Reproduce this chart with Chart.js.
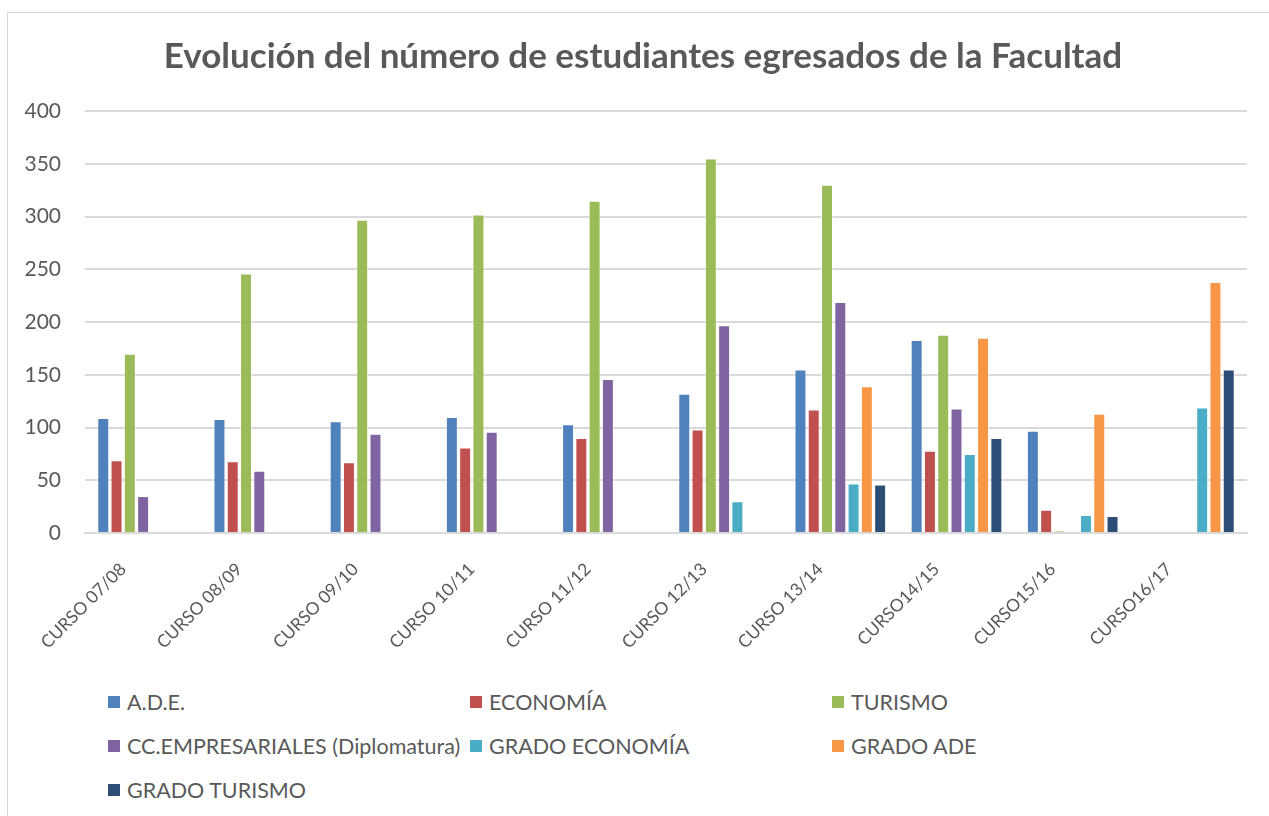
<!DOCTYPE html>
<html>
<head>
<meta charset="utf-8">
<script src="https://cdn.jsdelivr.net/npm/chart.js@4/dist/chart.umd.min.js"></script>
<style>
  body { margin: 0; background: #fff; width: 1269px; height: 816px; overflow: hidden; position: relative; font-family: Lato, sans-serif; }
  .frame { position: absolute; left: 7px; top: 12px; width: 1300px; height: 900px; border: 1px solid #d9d9d9; }
  #chart { position: absolute; left: 8px; top: 0; }
  .legend { position: absolute; left: 108px; top: 686px; margin: 0; padding: 0; list-style: none;
    display: grid; grid-template-columns: 362px 362px 362px; grid-auto-rows: 44px; }
  .legend li { display: flex; align-items: center; font-size: 21.5px; color: #595959; white-space: nowrap; height: 32px; }
  .legend .box { width: 12px; height: 12px; margin-right: 7px; flex: none; }
</style>
</head>
<body>
<div class="frame"></div>
<canvas id="chart" width="1270" height="680"></canvas>
<ul class="legend"></ul>
<script>
const courses = ["CURSO 07/08", "CURSO 08/09", "CURSO 09/10", "CURSO 10/11", "CURSO 11/12",
  "CURSO 12/13", "CURSO 13/14", "CURSO14/15", "CURSO15/16", "CURSO16/17"];
const seriesNames = ["A.D.E.", "ECONOMÍA", "TURISMO", "CC.EMPRESARIALES (Diplomatura)",
  "GRADO ECONOMÍA", "GRADO ADE", "GRADO TURISMO"];
const ade = [109, 108, 106, 110, 103, 132, 155, 183, 97, null];
const economia = [69, 68, 67, 81, 90, 98, 117, 78, 22, null];
const turismo = [170, 246, 297, 302, 315, 355, 330, 188, 2, null];
const empresariales = [35, 59, 94, 96, 146, 197, 219, 118, null, null];
const gradoEconomia = [null, null, null, null, null, 30, 47, 75, 17, 119];
const gradoAde = [null, null, null, null, null, null, 139, 185, 113, 238];
const gradoTurismo = [null, null, null, null, null, null, 46, 90, 16, 155];
const yTicks = [0, 50, 100, 150, 200, 250, 300, 350, 400];

const seriesValues = [ade, economia, turismo, empresariales, gradoEconomia, gradoAde, gradoTurismo];
const colors = ["#4f81bd", "#c0504d", "#9bbb59", "#8064a2", "#4bacc6", "#f79646", "#2c4d75"];
const textColor = "#595959";

const ctx = document.getElementById("chart").getContext("2d");
const chart = new Chart(ctx, {
  type: "bar",
  data: {
    labels: courses,
    datasets: seriesValues.map((values, i) => ({
      label: seriesNames[i],
      data: values,
      backgroundColor: colors[i],
      borderColor: "rgba(255,255,255,0.55)",
      borderWidth: 1,
      categoryPercentage: 0.8,
      barPercentage: 0.9,
    })),
  },
  options: {
    responsive: false,
    animation: false,
    layout: { padding: 0 },
    plugins: {
      legend: { display: false },
      tooltip: { enabled: false },
      title: {
        display: true,
        text: "Evolución del número de estudiantes egresados de la Facultad",
        color: textColor,
        font: { family: "Lato", size: 35, weight: "bold" },
        padding: { top: 36, bottom: 33 },
      },
    },
    scales: {
      x: {
        grid: { display: false, drawTicks: false },
        border: { color: "#d9d9d9", width: 2 },
        ticks: {
          color: textColor,
          font: { family: "Lato", size: 17.5 },
          minRotation: 45,
          maxRotation: 45,
          padding: 26,
          labelOffset: -20,
        },
        afterFit: (scale) => { scale.height = 147; },
      },
      y: {
        min: 0,
        max: 400,
        afterBuildTicks: (scale) => { scale.ticks = yTicks.map((v) => ({ value: v })); },
        grid: { color: "#d9d9d9", lineWidth: 2, drawTicks: false },
        border: { display: false },
        ticks: {
          color: textColor,
          font: { family: "Lato", size: 21 },
          padding: 24,
        },
        afterFit: (scale) => { scale.width = 77; },
      },
      // empty right margin so the title stays centred on the whole chart
      yRight: {
        position: "right",
        grid: { display: false, drawTicks: false },
        border: { display: false },
        ticks: { display: false },
        afterFit: (scale) => { scale.width = 31; },
      },
    },
  },
});

//building legend
const legend = document.querySelector(".legend");
seriesNames.forEach((name, index) => {
  const item = document.createElement("li");
  item.innerHTML = `<span class="box" style="background:${colors[index]}"></span><span>${name}</span>`;
  legend.appendChild(item);
});
</script>
</body>
</html>
